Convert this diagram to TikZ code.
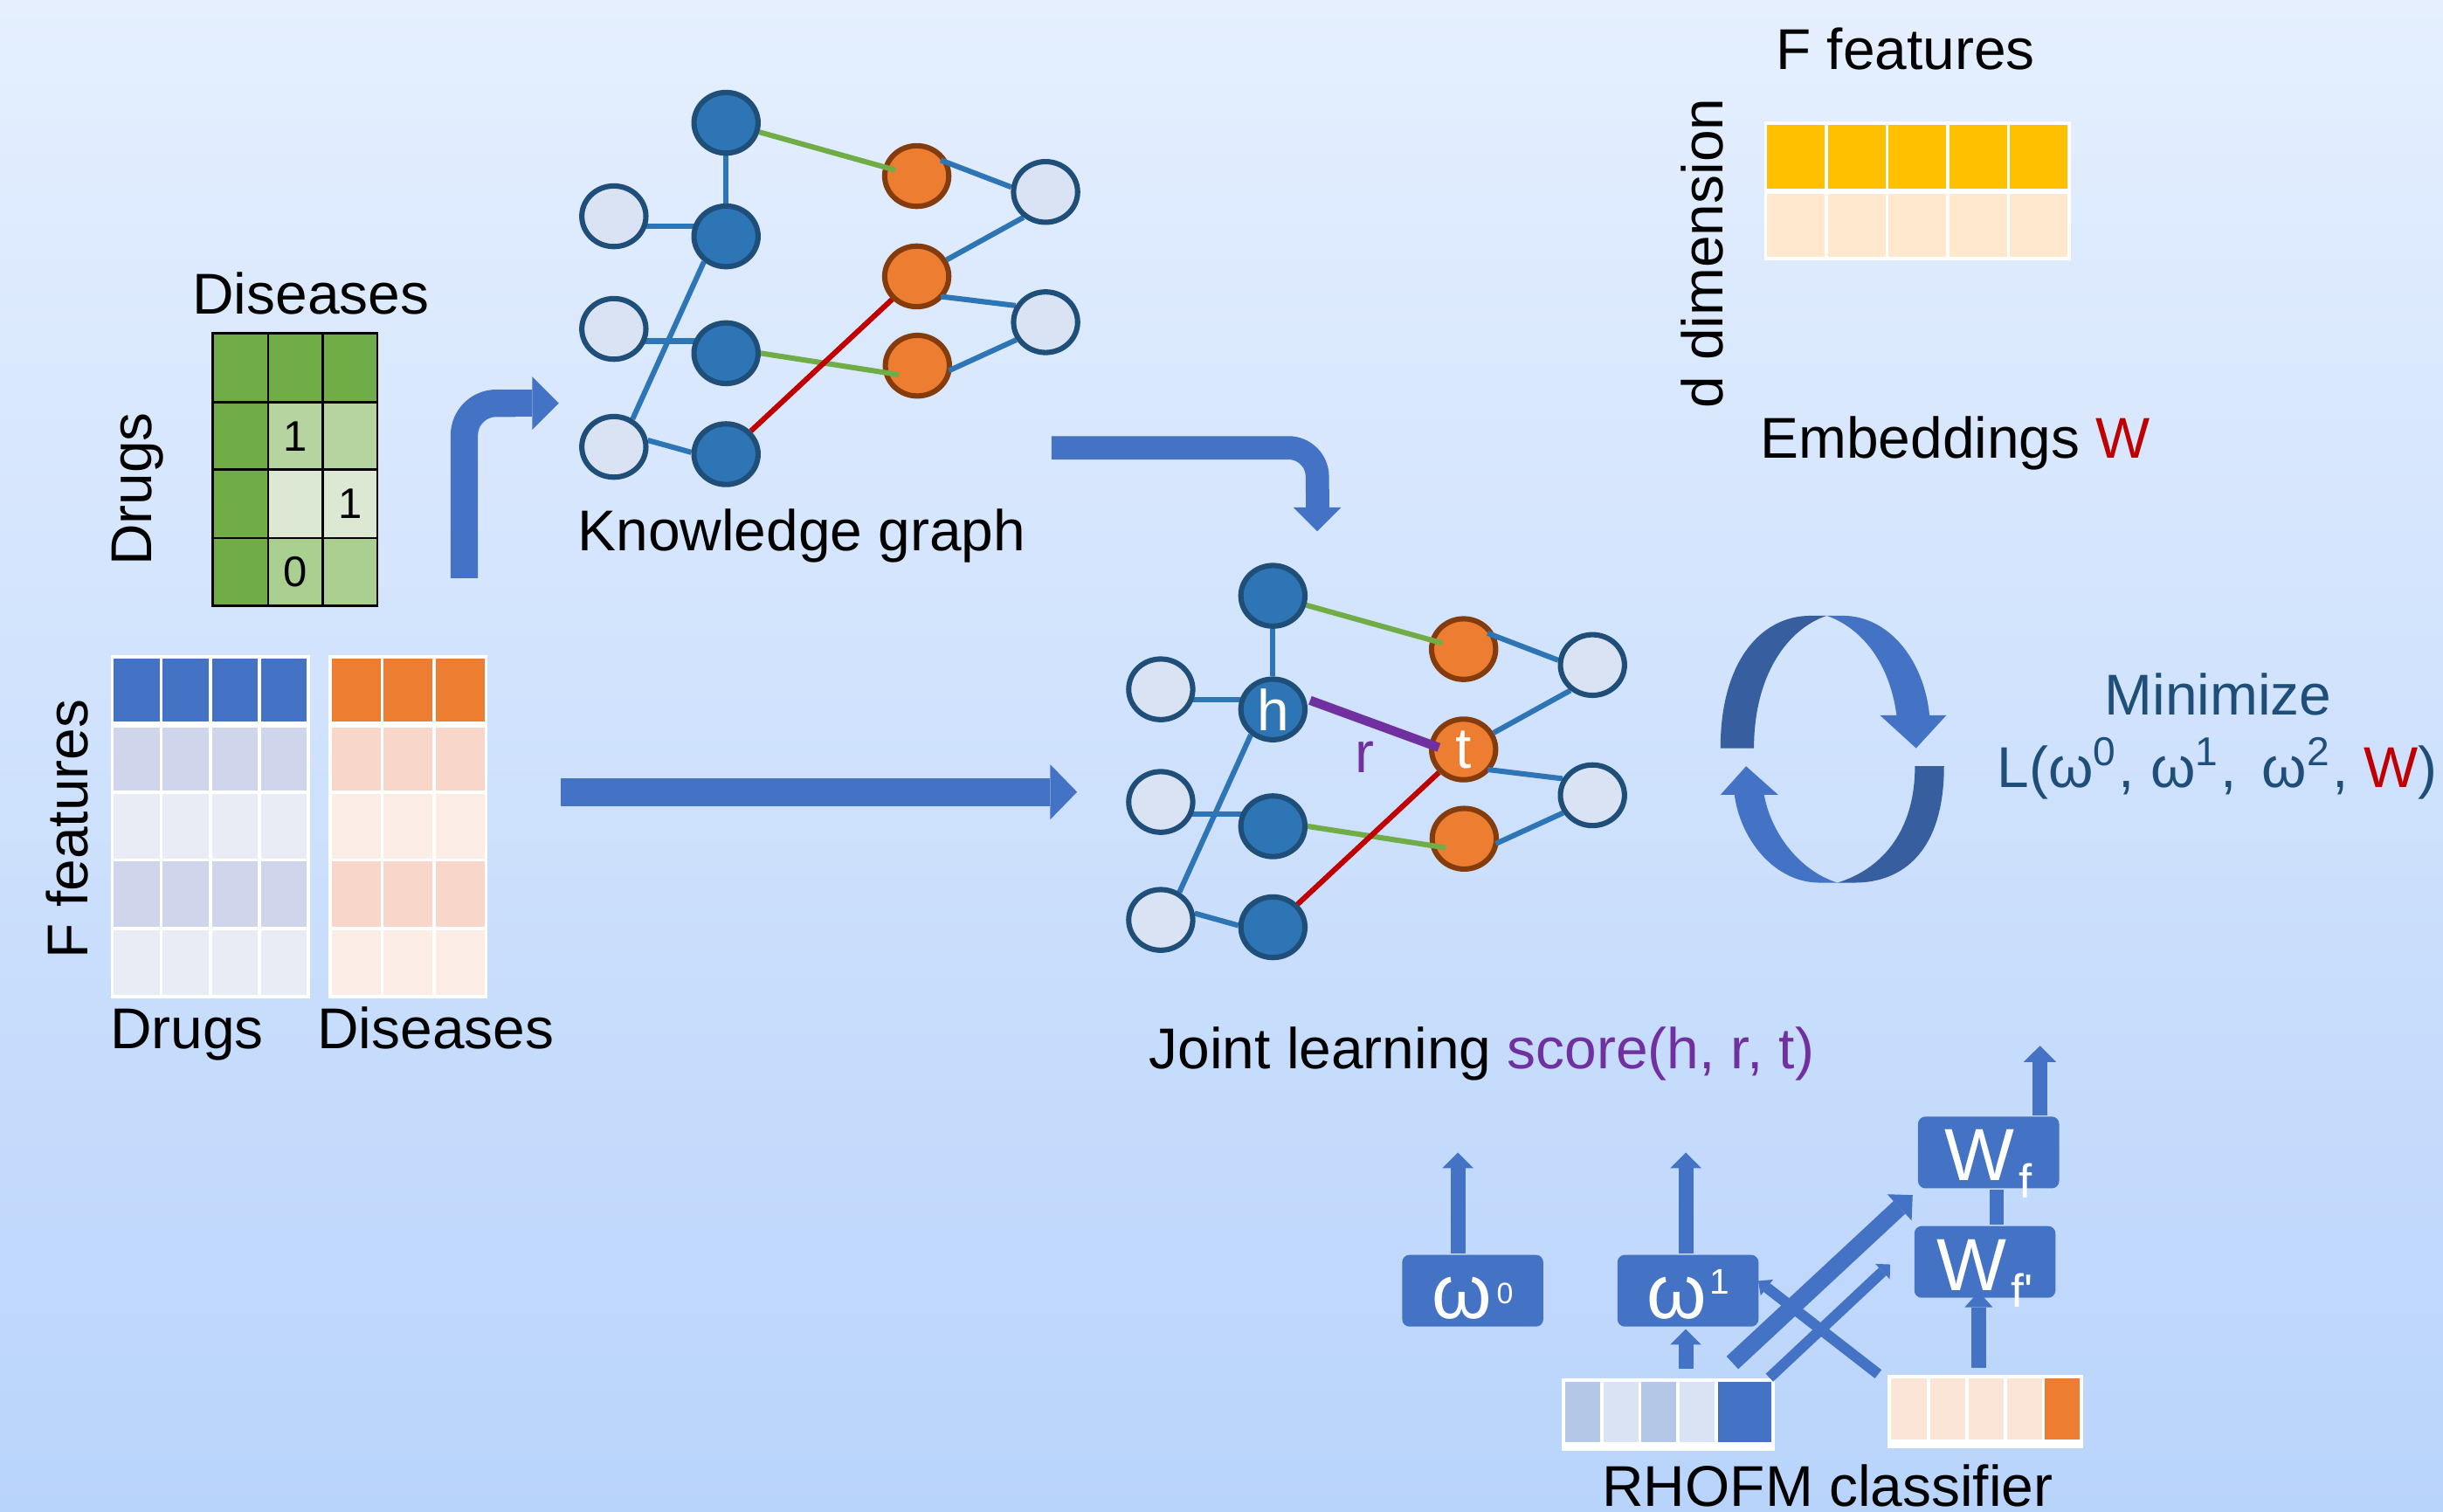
\documentclass[tikz,border=0pt]{standalone}
\usepackage{fontspec}
\setmainfont{Liberation Sans}
\usetikzlibrary{arrows.meta,calc,shapes.geometric}
\definecolor{bgtop}{HTML}{E5EFFE}
\definecolor{bgbot}{HTML}{B9D4FB}
\definecolor{accb}{HTML}{4472C4}
\definecolor{accbd}{HTML}{375E9F}
\definecolor{nodeb}{HTML}{2E75B6}
\definecolor{nodebd}{HTML}{1F4E79}
\definecolor{nodel}{HTML}{DAE3F3}
\definecolor{nodeo}{HTML}{ED7D31}
\definecolor{nodeod}{HTML}{843C0C}
\definecolor{egreen}{HTML}{70AD47}
\definecolor{ered}{HTML}{C00000}
\definecolor{epurple}{HTML}{7030A0}
\definecolor{tblA}{HTML}{CFD5EA}
\definecolor{tblB}{HTML}{E9EBF5}
\definecolor{torA}{HTML}{F8D7CA}
\definecolor{torB}{HTML}{FBECE6}
\definecolor{gdark}{HTML}{70AD47}
\definecolor{gone}{HTML}{B5D4A0}
\definecolor{gtwo}{HTML}{DCE8D4}
\definecolor{gthree}{HTML}{A9CF91}
\definecolor{yel}{HTML}{FFC000}
\definecolor{yell}{HTML}{FFE8CD}
\definecolor{vbA}{HTML}{B4C7E7}
\definecolor{vbB}{HTML}{DAE3F3}
\definecolor{voA}{HTML}{FBE5D6}
\definecolor{mblue}{HTML}{1F4E79}
\pgfdeclarelayer{bgl}
\pgfdeclarelayer{onodes}
\pgfdeclarelayer{edges}
\pgfsetlayers{bgl,onodes,edges,main}

\newcommand{\kgraph}[4]{%
\begin{scope}[shift={#1}]
\node[kb] (#2b1) at (466,78.8) {};
\node[kb] (#2b2) at (466,151.7) {#3};
\node[kb] (#2b3) at (466,226.7) {};
\node[kb] (#2b4) at (466,291.5) {};
\node[kl] (#2l1) at (394,138.8) {};
\node[kl] (#2l2) at (394,211.1) {};
\node[kl] (#2l3) at (394,286.8) {};
\node[kl] (#2r1) at (671.1,123.2) {};
\node[kl] (#2r2) at (671.1,206.8) {};
\begin{pgfonlayer}{onodes}
\node[ko] (#2o1) at (588.4,113) {};
\node[ko] (#2o2) at (588.4,177.4) {#4};
\node[ko] (#2o3) at (588.8,234.7) {};
\end{pgfonlayer}
\end{scope}
\begin{pgfonlayer}{edges}
\coordinate (#2m1) at ($(#2l1)!0.5!(#2b2)$);
\coordinate (#2m2) at ($(#2l2)!0.5!(#2b3)$);
\draw[eb] (#2b1) -- (#2b2);
\draw[eb] (#2l1 |- #2m1) -- (#2b2 |- #2m1);
\draw[eb] (#2l2 |- #2m2) -- (#2b3 |- #2m2);
\draw[eb] (#2b2.229) -- (#2l3.56);
\draw[eb] (#2l3.11) -- (#2b4.177);
\draw[eb, shorten <=-0.055cm] (#2o1.22) -- (#2r1.172);
\draw[eb] (#2o2.29) -- (#2r1.229);
\draw[eb, shorten <=-0.02cm] (#2o2.323) -- (#2r2.151);
\draw[eb, shorten <=-0.02cm] (#2o3.354) -- (#2r2.211);
\draw[eg, shorten >=-0.08cm] (#2b1) -- (#2o1);
\draw[eg, shorten >=-0.1cm] (#2b3.0) -- (#2o3.191);
\draw[er] (#2b4) -- (#2o2.223);
\end{pgfonlayer}
}

\begin{document}
\begin{tikzpicture}[x=0.01cm,y=-0.01cm,
  txt/.style={inner sep=0pt, anchor=base, font=\fontsize{10.5}{12.6}\selectfont},
  dig/.style={inner sep=0pt, font=\fontsize{7.8}{9}\selectfont},
  kb/.style={ellipse, draw=nodebd, fill=nodeb, line width=0.034cm, minimum width=0.411cm, minimum height=0.389cm, inner sep=0pt, text=white, font=\fontsize{10.5}{12.6}\selectfont},
  kl/.style={kb, fill=nodel},
  ko/.style={kb, fill=nodeo, draw=nodeod},
  eb/.style={draw=nodeb, line width=0.034cm},
  eg/.style={draw=egreen, line width=0.034cm},
  er/.style={draw=ered, line width=0.034cm},
  bx/.style={fill=accb, rounded corners=0.047cm, minimum width=0.905cm, minimum height=0.46cm, inner sep=0pt, text=white, text depth=0cm},
  fat/.style={draw=accb, line width=#1},
  uparr/.style={draw=accb, line width=0.095cm, -{Triangle[width=0.2cm,length=0.1cm,line width=0pt]}},
]
\path[use as bounding box] (0,0) rectangle (1568,970);
\begin{pgfonlayer}{bgl}
\shade[top color=bgtop, bottom color=bgbot] (0,0) rectangle (1568,970);
\end{pgfonlayer}

% ---------- green interaction matrix ----------
\foreach \ya/\yb/\cc in {213.8/258.2/gdark, 258.2/301.5/gone, 301.5/345.3/gtwo, 345.3/388.7/gthree}{
  \path[fill=gdark, draw=black, line width=0.015cm] (136.6,\ya) rectangle (172.1,\yb);
  \path[fill=\cc, draw=black, line width=0.015cm] (172.1,\ya) rectangle (207.2,\yb);
  \path[fill=\cc, draw=black, line width=0.015cm] (207.2,\ya) rectangle (242.2,\yb);
}
\node[dig] (g11) at (189.65,279.9) {1};
\node[dig] (g22) at (224.7,323.4) {1};
\node[dig] (g31) at (189.65,367) {0};
\node[txt] (tDisA) at (199.5,201.3) {Diseases};
\node[txt, rotate=90] (tDrugA) at (97.5,314) {Drugs};

% ---------- feature matrices ----------
\foreach \xa/\xb in {72/103.5,103.5/135,135/166.5,166.5/198}{
  \foreach \ya/\yb/\cc in {421.6/464.8/accb,464.8/508.6/tblA,508.6/552/tblB,552/596/tblA,596/639.6/tblB}{
    \path[fill=\cc, draw=white, line width=0.02cm] (\xa,\ya) rectangle (\xb,\yb);
  }
}
\draw[white, line width=0.04cm] (72,464.8) -- (198,464.8);
\foreach \xa/\xb in {212/245.3,245.3/278.7,278.7/312}{
  \foreach \ya/\yb/\cc in {421.6/464.8/nodeo,464.8/508.6/torA,508.6/552/torB,552/596/torA,596/639.6/torB}{
    \path[fill=\cc, draw=white, line width=0.02cm] (\xa,\ya) rectangle (\xb,\yb);
  }
}
\draw[white, line width=0.04cm] (212,464.8) -- (312,464.8);
\node[txt, rotate=90] (tFfA) at (56.5,532) {F features};
\node[txt] (tDrugB) at (120,673) {Drugs};
\node[txt] (tDisB) at (279.6,673) {Diseases};

% ---------- arrows ----------
\coordinate (bentA) at (298,371);
\coordinate (bentM) at (331,258.8);
\coordinate (bentM2) at (329,258.8);
\coordinate (bentB) at (358.7,258.8);
\draw[fat=0.175cm, rounded corners=0.205cm] (bentA) |- (bentM);
\draw[fat=0.175cm, -{Triangle[width=0.342cm,length=0.171cm,line width=0pt]}] (bentM2) -- (bentB);

\coordinate (bigA) at (360,508.3);
\coordinate (bigB) at (691.3,508.3);
\draw[fat=0.178cm, -{Triangle[width=0.355cm,length=0.173cm,line width=0pt]}] (bigA) -- (bigB);

\coordinate (kgA) at (674.9,287.4);
\coordinate (kgM) at (845.5,316);
\coordinate (kgM2) at (845.5,314);
\coordinate (kgB) at (845.5,341);
\draw[fat=0.15cm, rounded corners=0.185cm] (kgA) -| (kgM);
\draw[fat=0.15cm, -{Triangle[width=0.306cm,length=0.153cm,line width=0pt]}] (kgM2) -- (kgB);

% ---------- knowledge graphs ----------
\kgraph{(0,0)}{U}{}{}
\node[txt] (tKG) at (514.6,353.7) {Knowledge graph};

\kgraph{(351,303.6)}{L}{h}{t}
\draw[epurple, line width=0.058cm, shorten <=0.03cm, shorten >=-0.065cm] (Lb2.18) -- (Lo2.171);
\node[txt, text=epurple] (tr) at (876,496) {r};
\node[txt] (tJL) at (951,686) {Joint learning \textcolor{epurple}{score(h, r, t)}};

% ---------- embeddings ----------
\foreach \xa/\xb in {1133.3/1172.2,1172.2/1211.2,1211.2/1250.1,1250.1/1289.1,1289.1/1328}{
  \path[fill=yel, draw=white, line width=0.02cm] (\xa,79) rectangle (\xb,122.6);
  \path[fill=yell, draw=white, line width=0.02cm] (\xa,122.6) rectangle (\xb,166.1);
}
\draw[white, line width=0.035cm] (1133.3,122.6) -- (1328,122.6);
\node[txt] (tFfB) at (1223,44.4) {F features};
\node[txt, rotate=90] (tdd) at (1106,162.6) {d dimension};
\node[txt] (tEmb) at (1255,294.2) {Embeddings \textcolor{ered}{W}};

% ---------- cycle ----------
\begin{scope}[shift={(1093.05,386.77)}, scale=0.18685]
\fill[accbd] (60,500) .. controls (60,200) and (200,45) .. (370,45) -- (425,45) .. controls (290,90) and (175,250) .. (175,500) -- cycle;
\fill[accb] (425,45) -- (480,45) .. controls (640,45) and (760,200) .. (778,387) -- (836,387) -- (732,500) -- (608,387) -- (665,387) .. controls (640,200) and (540,85) .. (425,45) -- cycle;
\fill[accbd] (828,562) .. controls (828,850) and (690,962) .. (520,962) -- (462,962) .. controls (600,920) and (728,800) .. (728,562) -- cycle;
\fill[accb] (462,962) -- (400,962) .. controls (250,962) and (130,820) .. (108,660) -- (60,660) -- (148,562) -- (258,660) -- (210,660) .. controls (235,800) and (340,925) .. (462,962) -- cycle;
\end{scope}
\node[txt, text=mblue] (tMin) at (1423.7,458.8) {Minimize};
\node[txt, text=mblue] (tL) at (1423.2,505.2) {L(ω\textsuperscript{0}, ω\textsuperscript{1}, \,ω\textsuperscript{2}, \textcolor{ered}{W})};

% ---------- RHOFM classifier ----------
\foreach \xa/\xb/\cc in {1003.5/1028/vbA, 1028/1052.5/vbB, 1052.5/1077/vbA, 1077/1101.5/vbB, 1101.5/1138.1/accb}{
  \path[fill=\cc, draw=white, line width=0.02cm] (\xa,885.6) rectangle (\xb,926.6);
}
\fill[white] (1002.5,926.6) rectangle (1139.1,931);
\foreach \xa/\xb/\cc in {1212.6/1237.8/voA, 1237.8/1262.5/voA, 1262.5/1287.2/voA, 1287.2/1311.5/voA, 1311.5/1336/nodeo}{
  \path[fill=\cc, draw=white, line width=0.02cm] (\xa,883.4) rectangle (\xb,925);
}
\fill[white] (1211.6,925) rectangle (1337,929.2);

\coordinate (xa1) at (1111.9,874.6);
\coordinate (xa2) at (1227.6,767);
\coordinate (xb1) at (1135.7,884.2);
\coordinate (xb2) at (1213.2,811.5);
\coordinate (xc1) at (1205.5,881.9);
\coordinate (xc2) at (1128.5,822.1);
\draw[fat=0.111cm, -{Triangle[width=0.23cm,length=0.116cm,line width=0pt]}] (xa1) -- (xa2);
\draw[fat=0.069cm, -{Triangle[width=0.135cm,length=0.067cm,line width=0pt]}] (xb1) -- (xb2);
\draw[fat=0.069cm, -{Triangle[width=0.13cm,length=0.07cm,line width=0pt]}] (xc1) -- (xc2);

\coordinate (w1in) at (1082,878.3);
\coordinate (wpin) at (1270,877.8);
\draw[uparr] (w1in) -- (1082,853);
\draw[uparr, -{Triangle[width=0.18cm,length=0.1cm,line width=0pt]}] (wpin) -- (1270,829);

\node[bx, text height=0.355cm, font=\fontsize{14}{16}\selectfont] (w0) at (945.25,828.4) {ω\hspace{0.03cm}\raisebox{0.093cm}{\fontsize{5.4}{6}\selectfont 0}};
\node[bx, text height=0.355cm, font=\fontsize{14}{16}\selectfont] (w1) at (1083.4,828.4) {ω\hspace{0.02cm}\raisebox{0.155cm}{\fontsize{6.5}{7}\selectfont 1}};
\node[bx, text height=0.363cm, font=\fontsize{13.5}{16}\selectfont] (wf) at (1276.35,739.65) {W\hspace{0.03cm}\raisebox{-0.111cm}{\fontsize{8.7}{9}\selectfont f}};
\node[bx, text height=0.37cm, font=\fontsize{13.5}{16}\selectfont] (wfp) at (1274,809.9) {W\hspace{0.03cm}\raisebox{-0.104cm}{\fontsize{8.5}{9}\selectfont f\textquotesingle}};

\coordinate (w0top) at (935.7,739.7);
\coordinate (w1top) at (1082,739.7);
\coordinate (wftop) at (1309.3,671.2);
\coordinate (wcx) at (1281.5,0);
\draw[uparr] (w0.north -| w0top) -- (w0top);
\draw[uparr] (w1.north -| w1top) -- (w1top);
\draw[uparr, -{Triangle[width=0.21cm,length=0.104cm,line width=0pt]}] (wf.north -| wftop) -- (wftop);
\draw[fat=0.09cm] (wf.south -| wcx) -- (wfp.north -| wcx);

\node[txt] (tRH) at (1173,966.5) {RHOFM classifier};
\end{tikzpicture}
\end{document}
